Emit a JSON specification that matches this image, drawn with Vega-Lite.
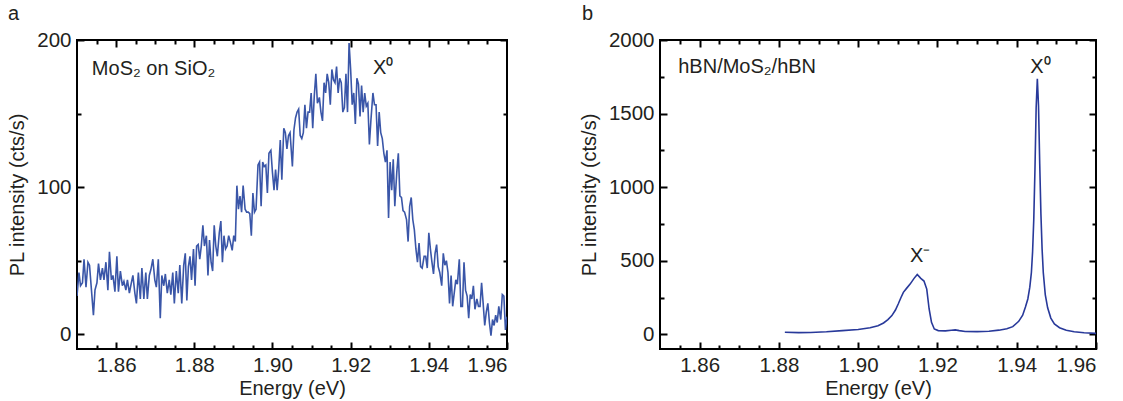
{
  "$schema": "https://vega.github.io/schema/vega-lite/v6.json",
  "padding": {"left": 6, "top": 3, "right": 5, "bottom": 0},
  "background": "white",
  "spacing": 69,
  "config": {
    "font": "Liberation Sans",
    "view": {"stroke": "black", "strokeWidth": 2},
    "axis": {"domain": false, "grid": false, "ticks": true, "tickOpacity": 1, "zindex": 2, "labelFont": "Liberation Sans", "labelFontSize": 20.5, "labelColor": "#231f20", "titleFont": "Liberation Sans", "titleFontSize": 20, "titleFontWeight": "normal", "titleColor": "#231f20", "tickColor": "#000000", "tickWidth": 2},
    "title": {"font": "Liberation Sans", "fontSize": 20, "fontWeight": "normal", "color": "#231f20", "anchor": "start", "frame": "group"}
  },
  "datasets": {
    "a": [
      {"e":1.8500,"i":26},{"e":1.8505,"i":42},{"e":1.8509,"i":33},{"e":1.8514,"i":35},{"e":1.8518,"i":51},{"e":1.8523,"i":32},{"e":1.8528,"i":49},{"e":1.8532,"i":47},{"e":1.8537,"i":30},{"e":1.8542,"i":13},
      {"e":1.8546,"i":30},{"e":1.8551,"i":35},{"e":1.8555,"i":48},{"e":1.8560,"i":37},{"e":1.8565,"i":45},{"e":1.8569,"i":37},{"e":1.8574,"i":49},{"e":1.8579,"i":30},{"e":1.8583,"i":56},{"e":1.8588,"i":37},
      {"e":1.8592,"i":40},{"e":1.8597,"i":29},{"e":1.8602,"i":53},{"e":1.8606,"i":29},{"e":1.8611,"i":43},{"e":1.8616,"i":33},{"e":1.8620,"i":36},{"e":1.8625,"i":30},{"e":1.8629,"i":37},{"e":1.8634,"i":28},
      {"e":1.8639,"i":35},{"e":1.8643,"i":40},{"e":1.8648,"i":28},{"e":1.8652,"i":21},{"e":1.8657,"i":42},{"e":1.8662,"i":24},{"e":1.8666,"i":45},{"e":1.8671,"i":24},{"e":1.8676,"i":42},{"e":1.8680,"i":24},
      {"e":1.8685,"i":40},{"e":1.8689,"i":44},{"e":1.8694,"i":51},{"e":1.8699,"i":37},{"e":1.8703,"i":32},{"e":1.8708,"i":51},{"e":1.8713,"i":11},{"e":1.8717,"i":40},{"e":1.8722,"i":33},{"e":1.8726,"i":41},
      {"e":1.8731,"i":28},{"e":1.8736,"i":37},{"e":1.8740,"i":27},{"e":1.8745,"i":42},{"e":1.8749,"i":21},{"e":1.8754,"i":43},{"e":1.8759,"i":28},{"e":1.8763,"i":47},{"e":1.8768,"i":21},{"e":1.8773,"i":47},
      {"e":1.8777,"i":55},
      {"e":1.8781,"i":23},{"e":1.8785,"i":46},{"e":1.8789,"i":53},{"e":1.8793,"i":37},{"e":1.8798,"i":58},{"e":1.8802,"i":33},{"e":1.8806,"i":60},{"e":1.8810,"i":61},{"e":1.8814,"i":51},{"e":1.8818,"i":60},
      {"e":1.8822,"i":74},{"e":1.8826,"i":60},{"e":1.8831,"i":67},{"e":1.8835,"i":40},{"e":1.8839,"i":64},{"e":1.8843,"i":49},{"e":1.8847,"i":43},{"e":1.8851,"i":74},{"e":1.8855,"i":60},{"e":1.8859,"i":53},
      {"e":1.8864,"i":69},{"e":1.8868,"i":77},{"e":1.8872,"i":49},{"e":1.8876,"i":67},{"e":1.8880,"i":58},{"e":1.8884,"i":60},{"e":1.8888,"i":67},{"e":1.8892,"i":63},{"e":1.8897,"i":57},{"e":1.8901,"i":67},
      {"e":1.8905,"i":63},{"e":1.8909,"i":101},{"e":1.8913,"i":85},{"e":1.8917,"i":94},{"e":1.8921,"i":83},{"e":1.8925,"i":101},{"e":1.8930,"i":85},{"e":1.8934,"i":83},{"e":1.8938,"i":83},{"e":1.8942,"i":82},
      {"e":1.8946,"i":67},{"e":1.8950,"i":96},{"e":1.8954,"i":83},{"e":1.8958,"i":85},{"e":1.8963,"i":115},{"e":1.8967,"i":117},{"e":1.8971,"i":87},{"e":1.8975,"i":117},{"e":1.8979,"i":114},{"e":1.8983,"i":115},
      {"e":1.8987,"i":96},{"e":1.8991,"i":123},{"e":1.8996,"i":125},{"e":1.9000,"i":110},{"e":1.9004,"i":98},{"e":1.9008,"i":112},{"e":1.9012,"i":98},{"e":1.9016,"i":112},{"e":1.9020,"i":132},{"e":1.9024,"i":105},
      {"e":1.9029,"i":140},{"e":1.9033,"i":137},{"e":1.9037,"i":126},{"e":1.9041,"i":135},{"e":1.9045,"i":137},
      {"e":1.9051,"i":114},{"e":1.9055,"i":139},{"e":1.9059,"i":147},{"e":1.9063,"i":151},{"e":1.9067,"i":153},{"e":1.9071,"i":135},{"e":1.9075,"i":133},{"e":1.9079,"i":137},{"e":1.9083,"i":156},{"e":1.9087,"i":140},
      {"e":1.9091,"i":151},{"e":1.9095,"i":151},{"e":1.9099,"i":164},{"e":1.9103,"i":140},{"e":1.9107,"i":162},{"e":1.9111,"i":177},{"e":1.9115,"i":157},{"e":1.9120,"i":161},{"e":1.9124,"i":151},{"e":1.9128,"i":145},
      {"e":1.9132,"i":171},{"e":1.9136,"i":164},{"e":1.9140,"i":177},{"e":1.9144,"i":171},{"e":1.9148,"i":156},{"e":1.9152,"i":180},{"e":1.9156,"i":173},{"e":1.9160,"i":171},{"e":1.9164,"i":182},{"e":1.9168,"i":164},
      {"e":1.9172,"i":174},{"e":1.9176,"i":171},{"e":1.9180,"i":151},{"e":1.9184,"i":154},{"e":1.9188,"i":177},{"e":1.9192,"i":151},{"e":1.9196,"i":198},{"e":1.9200,"i":180},{"e":1.9204,"i":156},{"e":1.9208,"i":164},
      {"e":1.9212,"i":143},{"e":1.9216,"i":174},{"e":1.9220,"i":170},{"e":1.9224,"i":148},{"e":1.9228,"i":169},{"e":1.9232,"i":151},{"e":1.9236,"i":164},{"e":1.9240,"i":155},{"e":1.9244,"i":157},{"e":1.9248,"i":129},
      {"e":1.9252,"i":146},{"e":1.9257,"i":164},{"e":1.9261,"i":156},{"e":1.9265,"i":156},{"e":1.9269,"i":128},{"e":1.9273,"i":151},{"e":1.9277,"i":137},{"e":1.9281,"i":133},{"e":1.9285,"i":123},{"e":1.9289,"i":117},
      {"e":1.9293,"i":125},{"e":1.9297,"i":79},{"e":1.9301,"i":117},{"e":1.9305,"i":98},{"e":1.9309,"i":119},{"e":1.9313,"i":87},
      {"e":1.9318,"i":110},{"e":1.9322,"i":123},{"e":1.9326,"i":94},{"e":1.9330,"i":93},{"e":1.9334,"i":84},{"e":1.9338,"i":83},{"e":1.9343,"i":78},{"e":1.9347,"i":63},{"e":1.9351,"i":87},{"e":1.9355,"i":93},
      {"e":1.9359,"i":78},{"e":1.9363,"i":71},{"e":1.9367,"i":58},{"e":1.9371,"i":49},{"e":1.9375,"i":62},{"e":1.9379,"i":46},{"e":1.9383,"i":45},{"e":1.9388,"i":53},{"e":1.9392,"i":53},{"e":1.9396,"i":45},
      {"e":1.9400,"i":69},{"e":1.9404,"i":58},{"e":1.9408,"i":49},{"e":1.9412,"i":41},{"e":1.9416,"i":55},{"e":1.9420,"i":61},{"e":1.9424,"i":46},{"e":1.9428,"i":42},{"e":1.9433,"i":33},{"e":1.9437,"i":55},
      {"e":1.9441,"i":47},{"e":1.9445,"i":50},{"e":1.9449,"i":42},{"e":1.9453,"i":21},{"e":1.9457,"i":40},{"e":1.9461,"i":19},{"e":1.9465,"i":28},{"e":1.9469,"i":37},{"e":1.9473,"i":34},{"e":1.9478,"i":51},
      {"e":1.9482,"i":19},{"e":1.9486,"i":19},{"e":1.9490,"i":49},{"e":1.9494,"i":30},{"e":1.9498,"i":26},{"e":1.9502,"i":11},{"e":1.9506,"i":27},{"e":1.9510,"i":24},{"e":1.9514,"i":33},{"e":1.9518,"i":17},
      {"e":1.9523,"i":24},{"e":1.9527,"i":19},{"e":1.9531,"i":19},{"e":1.9535,"i":35},{"e":1.9539,"i":21},{"e":1.9543,"i":6},{"e":1.9547,"i":15},{"e":1.9551,"i":21},{"e":1.9555,"i":8},{"e":1.9559,"i":-1},
      {"e":1.9563,"i":10},{"e":1.9567,"i":6},{"e":1.9571,"i":13},{"e":1.9575,"i":8},{"e":1.9579,"i":19},{"e":1.9584,"i":10},{"e":1.9588,"i":27},{"e":1.9592,"i":26},{"e":1.9596,"i":3},{"e":1.9600,"i":12}
    ],
    "b": [
      {"e":1.8815,"i":14},{"e":1.8850,"i":11},{"e":1.8880,"i":12},{"e":1.8920,"i":17},{"e":1.8960,"i":25},{"e":1.9000,"i":33},{"e":1.9030,"i":44},{"e":1.9050,"i":58},{"e":1.9064,"i":77},{"e":1.9075,"i":100},
      {"e":1.9085,"i":127},{"e":1.9094,"i":165},{"e":1.9101,"i":206},{"e":1.9108,"i":250},{"e":1.9114,"i":285},{"e":1.9122,"i":312},{"e":1.9131,"i":341},{"e":1.9141,"i":380},{"e":1.9149,"i":407},{"e":1.9158,"i":380},
      {"e":1.9166,"i":362},{"e":1.9173,"i":307},{"e":1.9179,"i":172},{"e":1.9185,"i":81},{"e":1.9192,"i":36},{"e":1.9202,"i":25},{"e":1.9220,"i":23},{"e":1.9235,"i":27},{"e":1.9245,"i":30},{"e":1.9255,"i":25},
      {"e":1.9270,"i":19},{"e":1.9300,"i":18},{"e":1.9330,"i":21},{"e":1.9355,"i":28},{"e":1.9375,"i":37},{"e":1.9390,"i":52},{"e":1.9405,"i":88},{"e":1.9415,"i":130},{"e":1.9422,"i":185},{"e":1.9428,"i":240},
      {"e":1.9433,"i":320},{"e":1.9437,"i":420},{"e":1.9440,"i":560},{"e":1.9443,"i":780},{"e":1.9446,"i":1120},{"e":1.9449,"i":1540},{"e":1.9452,"i":1737},{"e":1.9455,"i":1550},{"e":1.9458,"i":1160},{"e":1.9461,"i":820},
      {"e":1.9464,"i":580},{"e":1.9467,"i":420},{"e":1.9472,"i":270},{"e":1.9478,"i":180},{"e":1.9486,"i":110},{"e":1.9495,"i":70},{"e":1.9508,"i":45},{"e":1.9525,"i":28},{"e":1.9545,"i":17},{"e":1.9570,"i":10},
      {"e":1.9600,"i":6}
    ],
    "annA": [
      {"e":1.8538,"i":176,"t":"MoS₂ on SiO₂"},
      {"e":1.9257,"i":177,"t":"X⁰"}
    ],
    "annB": [
      {"e":1.8546,"i":1773,"t":"hBN/MoS₂/hBN"},
      {"e":1.9434,"i":1773,"t":"X⁰"},
      {"e":1.9131,"i":489,"t":"X⁻"}
    ]
  },
  "hconcat": [
    {
      "width": 430,
      "height": 309,
      "title": {"text": "a", "dx": -69, "offset": 6},
      "resolve": {"axis": {"x": "independent", "y": "independent"}},
      "layer": [
        {
          "data": {"name": "a"},
          "mark": {"type": "line", "color": "#3a56a8", "strokeWidth": 1.6, "clip": true},
          "encoding": {
            "x": {"field": "e", "type": "quantitative", "scale": {"domain": [1.85, 1.96], "nice": false, "zero": false},
              "axis": {"orient": "bottom", "values": [1.86, 1.88, 1.9, 1.92, 1.94, 1.96], "format": ".2f", "offset": -7, "tickSize": 7, "labelPadding": 6, "title": "Energy (eV)", "titlePadding": 3}},
            "y": {"field": "i", "type": "quantitative", "scale": {"domain": [-10, 200], "nice": false, "zero": false},
              "axis": {"orient": "left", "values": [0, 100, 200], "format": "d", "offset": -7, "tickSize": 7, "labelPadding": 6, "title": "PL intensity (cts/s)", "titlePadding": 9}}
          }
        },
        {
          "data": {"name": "annA"},
          "mark": {"type": "point", "opacity": 0},
          "encoding": {
            "x": {"field": "e", "type": "quantitative", "scale": {"domain": [1.85, 1.96], "nice": false, "zero": false},
              "axis": {"orient": "top", "values": [1.86, 1.88, 1.9, 1.92, 1.94], "offset": -7, "tickSize": 7, "labels": false, "title": null}},
            "y": {"field": "i", "type": "quantitative", "scale": {"domain": [-10, 200], "nice": false, "zero": false},
              "axis": {"orient": "right", "values": [0, 100, 200], "offset": -7, "tickSize": 7, "labels": false, "title": null}}
          }
        },
        {
          "data": {"name": "annA"},
          "mark": {"type": "point", "opacity": 0},
          "encoding": {
            "x": {"field": "e", "type": "quantitative", "scale": {"domain": [1.85, 1.96], "nice": false, "zero": false},
              "axis": {"orient": "bottom", "values": [1.855, 1.865, 1.87, 1.875, 1.885, 1.89, 1.895, 1.905, 1.91, 1.915, 1.925, 1.93, 1.935, 1.945, 1.95, 1.955], "offset": -4, "tickSize": 4, "labels": false, "title": null}},
            "y": {"field": "i", "type": "quantitative", "scale": {"domain": [-10, 200], "nice": false, "zero": false},
              "axis": {"orient": "left", "values": [50, 150], "offset": -4, "tickSize": 4, "labels": false, "title": null}}
          }
        },
        {
          "data": {"name": "annA"},
          "mark": {"type": "point", "opacity": 0},
          "encoding": {
            "x": {"field": "e", "type": "quantitative", "scale": {"domain": [1.85, 1.96], "nice": false, "zero": false},
              "axis": {"orient": "top", "values": [1.855, 1.865, 1.87, 1.875, 1.885, 1.89, 1.895, 1.905, 1.91, 1.915, 1.925, 1.93, 1.935, 1.945, 1.95, 1.955], "offset": -4, "tickSize": 4, "labels": false, "title": null}},
            "y": {"field": "i", "type": "quantitative", "scale": {"domain": [-10, 200], "nice": false, "zero": false},
              "axis": {"orient": "right", "values": [50, 150], "offset": -4, "tickSize": 4, "labels": false, "title": null}}
          }
        },
        {
          "data": {"name": "annA"},
          "mark": {"type": "text", "align": "left", "baseline": "alphabetic", "fontSize": 20, "font": "Liberation Sans", "color": "#231f20"},
          "encoding": {
            "x": {"field": "e", "type": "quantitative", "scale": {"domain": [1.85, 1.96], "nice": false, "zero": false}, "axis": null},
            "y": {"field": "i", "type": "quantitative", "scale": {"domain": [-10, 200], "nice": false, "zero": false}, "axis": null},
            "text": {"field": "t"}
          }
        }
      ]
    },
    {
      "width": 436,
      "height": 309,
      "title": {"text": "b", "dx": -78, "offset": 6},
      "resolve": {"axis": {"x": "independent", "y": "independent"}},
      "layer": [
        {
          "data": {"name": "b"},
          "mark": {"type": "line", "color": "#28399a", "strokeWidth": 1.6, "clip": true},
          "encoding": {
            "x": {"field": "e", "type": "quantitative", "scale": {"domain": [1.85, 1.96], "nice": false, "zero": false},
              "axis": {"orient": "bottom", "values": [1.86, 1.88, 1.9, 1.92, 1.94, 1.96], "format": ".2f", "offset": -7, "tickSize": 7, "labelPadding": 6, "title": "Energy (eV)", "titlePadding": 3}},
            "y": {"field": "i", "type": "quantitative", "scale": {"domain": [-100, 2000], "nice": false, "zero": false},
              "axis": {"orient": "left", "values": [0, 500, 1000, 1500, 2000], "format": "d", "offset": -7, "tickSize": 7, "labelPadding": 6, "title": "PL intensity (cts/s)", "titlePadding": 9}}
          }
        },
        {
          "data": {"name": "annB"},
          "mark": {"type": "point", "opacity": 0},
          "encoding": {
            "x": {"field": "e", "type": "quantitative", "scale": {"domain": [1.85, 1.96], "nice": false, "zero": false},
              "axis": {"orient": "top", "values": [1.86, 1.88, 1.9, 1.92, 1.94], "offset": -7, "tickSize": 7, "labels": false, "title": null}},
            "y": {"field": "i", "type": "quantitative", "scale": {"domain": [-100, 2000], "nice": false, "zero": false},
              "axis": {"orient": "right", "values": [0, 500, 1000, 1500, 2000], "offset": -7, "tickSize": 7, "labels": false, "title": null}}
          }
        },
        {
          "data": {"name": "annB"},
          "mark": {"type": "point", "opacity": 0},
          "encoding": {
            "x": {"field": "e", "type": "quantitative", "scale": {"domain": [1.85, 1.96], "nice": false, "zero": false},
              "axis": {"orient": "bottom", "values": [1.855, 1.865, 1.87, 1.875, 1.885, 1.89, 1.895, 1.905, 1.91, 1.915, 1.925, 1.93, 1.935, 1.945, 1.95, 1.955], "offset": -4, "tickSize": 4, "labels": false, "title": null}},
            "y": {"field": "i", "type": "quantitative", "scale": {"domain": [-100, 2000], "nice": false, "zero": false},
              "axis": {"orient": "left", "values": [250, 750, 1250, 1750], "offset": -4, "tickSize": 4, "labels": false, "title": null}}
          }
        },
        {
          "data": {"name": "annB"},
          "mark": {"type": "point", "opacity": 0},
          "encoding": {
            "x": {"field": "e", "type": "quantitative", "scale": {"domain": [1.85, 1.96], "nice": false, "zero": false},
              "axis": {"orient": "top", "values": [1.855, 1.865, 1.87, 1.875, 1.885, 1.89, 1.895, 1.905, 1.91, 1.915, 1.925, 1.93, 1.935, 1.945, 1.95, 1.955], "offset": -4, "tickSize": 4, "labels": false, "title": null}},
            "y": {"field": "i", "type": "quantitative", "scale": {"domain": [-100, 2000], "nice": false, "zero": false},
              "axis": {"orient": "right", "values": [250, 750, 1250, 1750], "offset": -4, "tickSize": 4, "labels": false, "title": null}}
          }
        },
        {
          "data": {"name": "annB"},
          "mark": {"type": "text", "align": "left", "baseline": "alphabetic", "fontSize": 20, "font": "Liberation Sans", "color": "#231f20"},
          "encoding": {
            "x": {"field": "e", "type": "quantitative", "scale": {"domain": [1.85, 1.96], "nice": false, "zero": false}, "axis": null},
            "y": {"field": "i", "type": "quantitative", "scale": {"domain": [-100, 2000], "nice": false, "zero": false}, "axis": null},
            "text": {"field": "t"}
          }
        }
      ]
    }
  ]
}
